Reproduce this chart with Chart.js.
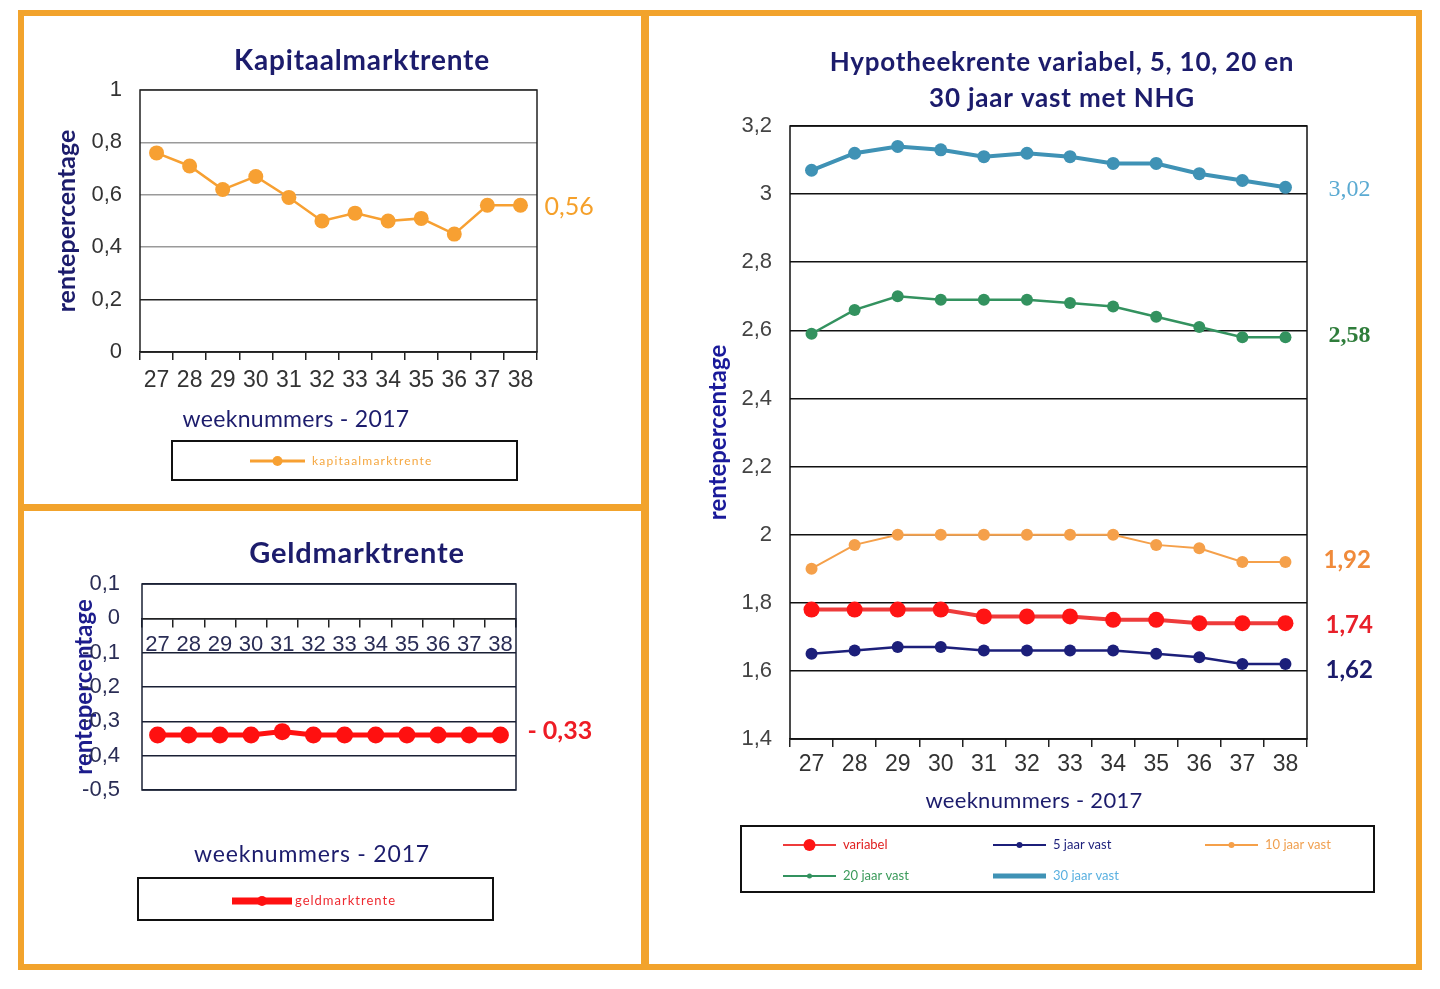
<!DOCTYPE html>
<html>
<head>
<meta charset="utf-8">
<script src="https://cdn.jsdelivr.net/npm/chart.js@4.4.1/dist/chart.umd.min.js"></script>
<style>
  body { margin: 0; background: #fff; width: 1440px; height: 989px; position: relative; overflow: hidden; }
  .frame { position: absolute; left: 18px; top: 10px; width: 1392px; height: 948px; border: 6px solid #f2a32c; }
  .vdiv { position: absolute; left: 641px; top: 10px; width: 8px; height: 960px; background: #f2a32c; }
  .hdiv { position: absolute; left: 18px; top: 504px; width: 627px; height: 7px; background: #f2a32c; }
  canvas { position: absolute; }
  #kapitaal { left: 25px; top: 16px; }
  #geld { left: 25px; top: 511px; }
  #hypotheek { left: 649px; top: 16px; }
</style>
</head>
<body>
<div class="frame"></div>
<div class="vdiv"></div>
<div class="hdiv"></div>
<canvas id="kapitaal" width="616" height="489"></canvas>
<canvas id="geld" width="616" height="454"></canvas>
<canvas id="hypotheek" width="767" height="949"></canvas>
<script>
// weeknummers 2017
const weeks = ["27", "28", "29", "30", "31", "32", "33", "34", "35", "36", "37", "38"];

const kapitaalmarkt = [0.76, 0.71, 0.62, 0.67, 0.59, 0.50, 0.53, 0.50, 0.51, 0.45, 0.56, 0.56];
const geldmarkt = [-0.34, -0.34, -0.34, -0.34, -0.33, -0.34, -0.34, -0.34, -0.34, -0.34, -0.34, -0.34];

const variabel = [1.78, 1.78, 1.78, 1.78, 1.76, 1.76, 1.76, 1.75, 1.75, 1.74, 1.74, 1.74];
const vast5 = [1.65, 1.66, 1.67, 1.67, 1.66, 1.66, 1.66, 1.66, 1.65, 1.64, 1.62, 1.62];
const vast10 = [1.90, 1.97, 2.00, 2.00, 2.00, 2.00, 2.00, 2.00, 1.97, 1.96, 1.92, 1.92];
const vast20 = [2.59, 2.66, 2.70, 2.69, 2.69, 2.69, 2.68, 2.67, 2.64, 2.61, 2.58, 2.58];
const vast30 = [3.07, 3.12, 3.14, 3.13, 3.11, 3.12, 3.11, 3.09, 3.09, 3.06, 3.04, 3.02];

// labels next to the last point
const eindKapitaal = "0,56";
const eindGeld = "- 0,33";
const eindHypotheek = ["1,74", "1,62", "1,92", "2,58", "3,02"];

const NAVY = "#1c1c6c";
const narrow = "'Liberation Sans Narrow', 'Liberation Sans', Arial, sans-serif";
const arial = "'Liberation Sans', Arial, sans-serif";

function komma(v) {
  const r = Math.round(v * 10) / 10;
  return r === 0 ? "0" : String(r).replace(".", ",");
}

// frame, titles, legend box and end labels
function decor(cfg) {
  return {
    id: "decor",
    beforeDatasetsDraw(chart) {
      const { ctx, chartArea: a } = chart;
      ctx.save();
      ctx.strokeStyle = cfg.frameColor;
      ctx.lineWidth = 1.5;
      ctx.strokeRect(a.left, a.top, a.right - a.left, a.bottom - a.top);
      ctx.restore();
    },
    afterDraw(chart) {
      const ctx = chart.ctx;
      ctx.save();
      ctx.textBaseline = "middle";

      cfg.titles.forEach(t => {
        ctx.font = t.font;
        ctx.fillStyle = t.color;
        ctx.textAlign = "center";
        ctx.letterSpacing = t.spacing || "0px";
        ctx.fillText(t.text, t.x, t.y);
        ctx.letterSpacing = "0px";
      });

      const L = cfg.legend;
      ctx.strokeStyle = "#111";
      ctx.lineWidth = 2;
      ctx.strokeRect(L.box[0], L.box[1], L.box[2] - L.box[0], L.box[3] - L.box[1]);
      chart.data.datasets.forEach((ds, i) => {
        const m = L.marks[i];
        const x = L.cols[i % L.cols.length];
        const y = L.rows[Math.floor(i / L.cols.length)];
        ctx.strokeStyle = ds.borderColor;
        ctx.lineWidth = m.lw;
        ctx.beginPath();
        ctx.moveTo(x, y);
        ctx.lineTo(x + L.len, y);
        ctx.stroke();
        if (m.r) {
          ctx.fillStyle = ds.pointBackgroundColor;
          ctx.beginPath();
          ctx.arc(x + L.len / 2, y, m.r, 0, Math.PI * 2);
          ctx.fill();
        }
        ctx.font = L.font;
        ctx.fillStyle = m.color;
        ctx.textAlign = "left";
        ctx.letterSpacing = L.spacing || "0px";
        ctx.fillText(ds.label, x + L.len + L.gap, y);
        ctx.letterSpacing = "0px";
      });

      cfg.endLabels.forEach(e => {
        const meta = chart.getDatasetMeta(e.ds);
        const pt = meta.data[meta.data.length - 1];
        ctx.font = e.font;
        ctx.fillStyle = e.color;
        ctx.textAlign = "left";
        ctx.fillText(e.text, pt.x + e.dx, pt.y + e.dy);
      });
      ctx.restore();
    }
  };
}

function xAxis(size, padding, extra) {
  return Object.assign({
    offset: true,
    grid: { display: true, drawOnChartArea: false, offset: true, tickLength: 8, color: "#222", lineWidth: 1.5 },
    border: { display: true, color: "#222", width: 1.5 },
    ticks: { color: "#333", font: { family: narrow, size: size }, padding: padding, maxRotation: 0, autoSkip: false },
  }, extra);
}

// Kapitaalmarktrente
new Chart(document.getElementById("kapitaal"), {
  type: "line",
  data: {
    labels: weeks,
    datasets: [{
      label: "kapitaalmarktrente",
      data: kapitaalmarkt,
      borderColor: "#f7a032",
      pointBackgroundColor: "#f7a032",
      borderWidth: 2.5,
      pointRadius: 7.5,
      pointBorderWidth: 0,
    }],
  },
  options: {
    responsive: false,
    animation: false,
    layout: { padding: { left: 23, right: 104, top: 74, bottom: 113 } },
    plugins: { legend: { display: false }, tooltip: { enabled: false } },
    scales: {
      x: xAxis(23, 7, { afterFit(s) { s.height = 40; } }),
      y: {
        min: 0,
        max: 1,
        ticks: { stepSize: 0.2, color: "#333", font: { family: arial, size: 22 }, padding: 18, callback: komma },
        grid: { drawTicks: false, lineWidth: 1.5, color: c => (c.tick && c.tick.value > 0.3 ? "#9a9a9a" : "#222") },
        border: { display: false },
        title: { display: true, text: "rentepercentage", color: NAVY, font: { family: "Lato", size: 25, weight: "bold" } },
        afterFit(s) { s.width = 92; },
      },
    },
  },
  plugins: [decor({
    frameColor: "#222",
    titles: [
      { text: "Kapitaalmarktrente", x: 362 - 25, y: 45, font: "bold 28px Lato", color: NAVY, spacing: "0.8px" },
      { text: "weeknummers - 2017", x: 271, y: 404, font: "23px Lato", color: NAVY, spacing: "0.3px" },
    ],
    legend: {
      box: [147, 425, 492, 464], cols: [225], rows: [445], len: 55, gap: 7,
      font: "12px Lato", spacing: "1.2px",
      marks: [{ lw: 3, r: 5, color: "#f5a740" }],
    },
    endLabels: [{ ds: 0, text: eindKapitaal, dx: 24, dy: 2, font: "25px Lato", color: "#f5a02a" }],
  })],
});

// Geldmarktrente
new Chart(document.getElementById("geld"), {
  type: "line",
  data: {
    labels: weeks,
    datasets: [{
      label: "geldmarktrente",
      data: geldmarkt,
      borderColor: "#ff1010",
      pointBackgroundColor: "#ff1010",
      borderWidth: 5,
      pointRadius: 8.5,
      pointBorderWidth: 0,
    }],
  },
  options: {
    responsive: false,
    animation: false,
    layout: { padding: { left: 41, right: 125, top: 73, bottom: 175 } },
    plugins: { legend: { display: false }, tooltip: { enabled: false } },
    scales: {
      x: xAxis(22, 5, { position: { y: 0 }, ticks: { color: "#2a2d55", font: { family: narrow, size: 22 }, padding: 5, maxRotation: 0, autoSkip: false } }),
      y: {
        min: -0.5,
        max: 0.1,
        ticks: { stepSize: 0.1, color: "#2a2d55", font: { family: arial, size: 22 }, padding: 22, callback: komma },
        grid: { drawTicks: false, lineWidth: 1.5, color: "#1a2035" },
        border: { display: false },
        title: { display: true, text: "rentepercentage", color: "#1c1c8c", font: { family: "Lato", size: 24, weight: "bold" } },
        afterFit(s) { s.width = 76; },
      },
    },
  },
  plugins: [decor({
    frameColor: "#1a2035",
    titles: [
      { text: "Geldmarktrente", x: 332, y: 43, font: "bold 29px Lato", color: NAVY, spacing: "0.8px" },
      { text: "weeknummers - 2017", x: 287, y: 344, font: "23px Lato", color: NAVY, spacing: "0.8px" },
    ],
    legend: {
      box: [113, 367, 468, 409], cols: [207], rows: [390], len: 60, gap: 3,
      font: "13px Lato", spacing: "1px",
      marks: [{ lw: 7, r: 5, color: "#ee2a30" }],
    },
    endLabels: [{ ds: 0, text: eindGeld, dx: 27, dy: -4, font: "bold 25px Lato", color: "#ee1c25" }],
  })],
});

// Hypotheekrente
const hypoColors = ["#ee3b3b", "#1c1f7a", "#f5a04a", "#33925f", "#3f92b5"];
const hypoPoints = ["#ff1414", "#1c1f7a", "#f5a04a", "#33925f", "#3f92b5"];
const hypoLabels = ["variabel", "5 jaar vast", "10 jaar vast", "20 jaar vast", "30 jaar vast"];
const hypoSeries = [variabel, vast5, vast10, vast20, vast30];
const hypoWidths = [4, 2.5, 2, 2.5, 4];
const hypoRadius = [8, 6, 6, 6, 6.5];

new Chart(document.getElementById("hypotheek"), {
  type: "line",
  data: {
    labels: weeks,
    datasets: hypoSeries.map((s, i) => ({
      label: hypoLabels[i],
      data: s,
      borderColor: hypoColors[i],
      pointBackgroundColor: hypoPoints[i],
      borderWidth: hypoWidths[i],
      pointRadius: hypoRadius[i],
      pointBorderWidth: 0,
    })),
  },
  options: {
    responsive: false,
    animation: false,
    layout: { padding: { left: 51, right: 109, top: 110, bottom: 186 } },
    plugins: { legend: { display: false }, tooltip: { enabled: false } },
    scales: {
      x: xAxis(23, 4, { afterFit(s) { s.height = 40; } }),
      y: {
        min: 1.4,
        max: 3.2,
        ticks: { stepSize: 0.2, color: "#444", font: { family: arial, size: 22 }, padding: 18, callback: komma },
        grid: { drawTicks: false, lineWidth: 1.5, color: "#111" },
        border: { display: false },
        title: { display: true, text: "rentepercentage", color: "#1a1a9a", font: { family: "Lato", size: 24, weight: "bold" } },
        afterFit(s) { s.width = 90; },
      },
    },
  },
  plugins: [decor({
    frameColor: "#111",
    titles: [
      { text: "Hypotheekrente variabel, 5, 10, 20 en", x: 413, y: 47, font: "bold 26px Lato", color: NAVY, spacing: "0.8px" },
      { text: "30 jaar vast met NHG", x: 413, y: 83, font: "bold 26px Lato", color: NAVY, spacing: "0.8px" },
      { text: "weeknummers - 2017", x: 385, y: 785, font: "22px Lato", color: NAVY, spacing: "0.3px" },
    ],
    legend: {
      box: [92, 810, 725, 876], cols: [134, 344, 556], rows: [829, 860], len: 53, gap: 7,
      font: "13px Lato",
      marks: [
        { lw: 2, r: 6, color: "#e02020" },
        { lw: 2, r: 3, color: "#1c1f7a" },
        { lw: 2, r: 3, color: "#f0a050" },
        { lw: 2, r: 2.5, color: "#3a9a5a" },
        { lw: 5, r: 0, color: "#5ab0e0" },
      ],
    },
    endLabels: [
      { ds: 0, text: eindHypotheek[0], dx: 40, dy: 2, font: "bold 24px Lato", color: "#e8202a" },
      { ds: 1, text: eindHypotheek[1], dx: 40, dy: 6, font: "bold 24px Lato", color: "#1b1b6b" },
      { ds: 2, text: eindHypotheek[2], dx: 38, dy: -2, font: "bold 24px Lato", color: "#f08a3a" },
      { ds: 3, text: eindHypotheek[3], dx: 43, dy: -1, font: "bold 24px 'Liberation Serif'", color: "#2f7d3b" },
      { ds: 4, text: eindHypotheek[4], dx: 43, dy: 2, font: "24px 'Liberation Serif'", color: "#5aaad2" },
    ],
  })],
});
</script>
</body>
</html>
